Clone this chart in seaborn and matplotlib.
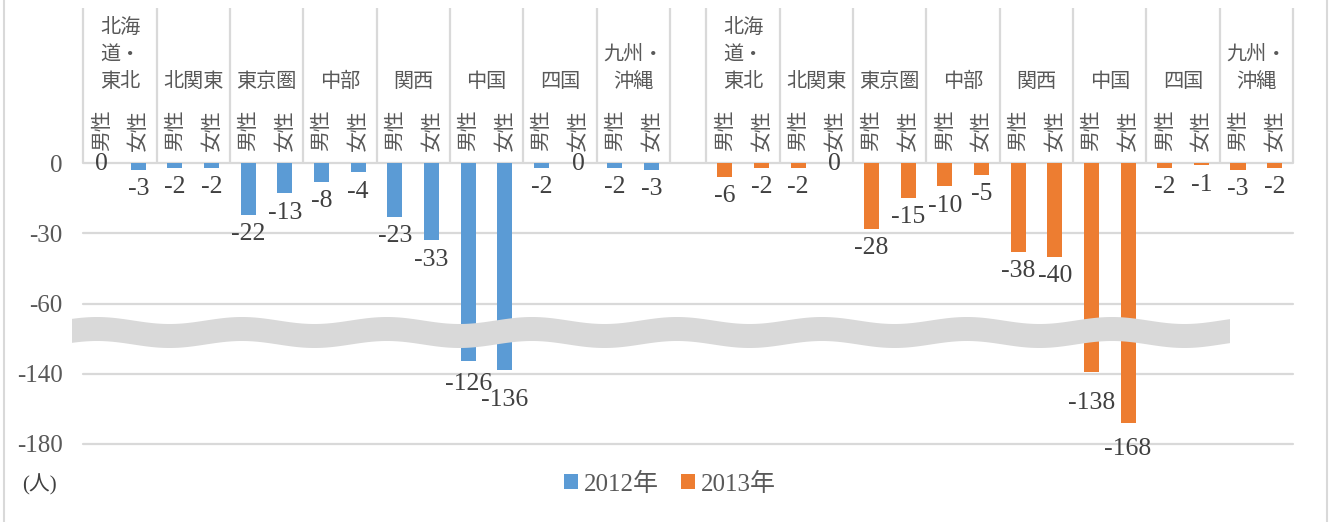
import numpy as np
import pandas as pd
import matplotlib
matplotlib.use('Agg')
import matplotlib.pyplot as plt
import seaborn as sns
from matplotlib.patches import Patch, Polygon
from matplotlib.lines import Line2D

# regions / genders / series
region_labels = ['北海\n道・\n東北', '北関東', '東京圏', '中部', '関西', '中国', '四国', '九州・\n沖縄']
genders = ['男性', '女性']
years = ['2012年', '2013年']
colors = ['#5B9BD5', '#ED7D31']

male_2012 = [0, -2, -22, -8, -23, -126, -2, -2]
female_2012 = [-3, -2, -13, -4, -33, -136, 0, -3]
male_2013 = [-6, -2, -28, -10, -38, -138, -2, -3]
female_2013 = [-2, 0, -15, -5, -40, -168, -1, -2]

y_ticks = [0, -30, -60, -140, -180]

# broken value axis: everything below -60 is squeezed
break_vals = [-1000, -180, -140, -60, 0, 1000]
break_disp = [-735, -120, -90, -60, 0, 1000]


def fwd(v):
    return np.interp(v, break_vals, break_disp)


def inv(d):
    return np.interp(d, break_disp, break_vals)


# build long table, one slot per bar, empty slot between the two years
rows = []
series = [(male_2012, female_2012), (male_2013, female_2013)]
for yi, (m, f) in enumerate(series):
    base = 0 if yi == 0 else 17
    for ri in range(len(region_labels)):
        for gi, vals in enumerate((m, f)):
            rows.append({'slot': base + 2 * ri + gi, 'value': vals[ri],
                         'year': years[yi], 'gender': genders[gi]})
df = pd.DataFrame(rows)

sns.set_style('white')
plt.rcParams['font.family'] = ['Liberation Serif', 'Noto Sans CJK JP']
cjk = ['Noto Sans CJK JP']
grey = '#595959'
dark = '#404040'
light = '#D9D9D9'

fig = plt.figure(figsize=(13.35, 5.22), dpi=100)
ax = fig.add_axes([83.3 / 1335, 78 / 522, (1293 - 83.3) / 1335, 281 / 522])

sns.barplot(data=df, x='slot', y='value', hue='year', palette=colors,
            native_scale=True, dodge=False, width=0.41, errorbar=None,
            saturation=1, legend=False, linewidth=0, ax=ax)

ax.set_yscale('function', functions=(fwd, inv))
ax.set_xticks([])
ax.set_xlabel('')
ax.set_ylabel('')
ax.set_yticks(y_ticks, labels=[str(v) for v in y_ticks])
ax.tick_params(axis='y', length=0, pad=15, labelsize=18, labelcolor=grey)
for s in ax.spines.values():
    s.set_visible(False)
ax.grid(axis='y', color=light, lw=1.6)
ax.set_axisbelow(True)
for gl in ax.get_ygridlines():
    gl.set_clip_on(False)

# category area above the zero line
xt = ax.get_xaxis_transform()
bounds = [b - 0.5 for b in list(range(0, 17, 2)) + list(range(17, 34, 2))]
ax.vlines(bounds, 1.0, 1.552, transform=xt, colors=light, lw=1.6, clip_on=False)

for yi in range(2):
    base = 0 if yi == 0 else 17
    for ri, lab in enumerate(region_labels):
        ax.text(base + 2 * ri + 0.5, 1 + (163 - 92) / 281, lab, transform=xt,
                ha='center', va='bottom', multialignment='center', linespacing=1.38,
                fontsize=14.5, color=grey, family=cjk)
        for gi, g in enumerate(genders):
            ax.text(base + 2 * ri + gi, 1 + 12 / 281, g, transform=xt, rotation=90,
                    ha='center', va='bottom', fontsize=15, color=grey, family=cjk)

# data labels (the squeezed bars get their label where the 2/3 scale puts them)
for _, r in df.iterrows():
    v = r['value']
    if v == 0:
        ax.annotate('0', (r['slot'], 0), xytext=(0, -1), textcoords='offset points',
                    ha='center', va='center', fontsize=18.5, color=dark,
                    annotation_clip=False)
    elif v < -60:
        ax.annotate(str(v), (r['slot'], inv(v * 2 / 3)), xytext=(0, -9.5),
                    textcoords='offset points', ha='center', va='top',
                    fontsize=18.5, color=dark, annotation_clip=False)
    else:
        ax.annotate(str(v), (r['slot'], v), xytext=(0, -6),
                    textcoords='offset points', ha='center', va='top',
                    fontsize=18.5, color=dark, annotation_clip=False)

ax.set_xlim(-0.5, 32.5)
ax.set_ylim(-180, 0)

# wavy break band
W, H = 1335, 522
xs = np.linspace(72, 1230, 500)
yc = 332.5 - 3.5 * np.cos(2 * np.pi * (xs - 97) / 145)
pts = np.vstack([np.column_stack([xs, yc - 12]), np.column_stack([xs[::-1], (yc + 12)[::-1]])])
pts[:, 0] = pts[:, 0] / W
pts[:, 1] = 1 - pts[:, 1] / H
ax.add_patch(Polygon(pts, closed=True, transform=fig.transFigure, facecolor=light,
                     edgecolor='none', zorder=5, clip_on=False))

# legend and unit
handles = [Patch(facecolor=c, edgecolor='none', label=y) for c, y in zip(colors, years)]
fig.legend(handles=handles, loc='center', bbox_to_anchor=(670 / W, 1 - 484 / H), ncol=2,
           frameon=False, fontsize=18, handlelength=0.55, handleheight=0.55,
           handletextpad=0.25, columnspacing=0.9, labelcolor=grey)
fig.text(22 / W, 1 - 485 / H, '(人)', ha='left', va='center', fontsize=15, color=dark)

# chart area border
for xb in (4, 1327):
    fig.add_artist(Line2D([xb / W, xb / W], [0, 1], transform=fig.transFigure, color=light, lw=1.5))

fig.savefig('out.png', dpi=100)
